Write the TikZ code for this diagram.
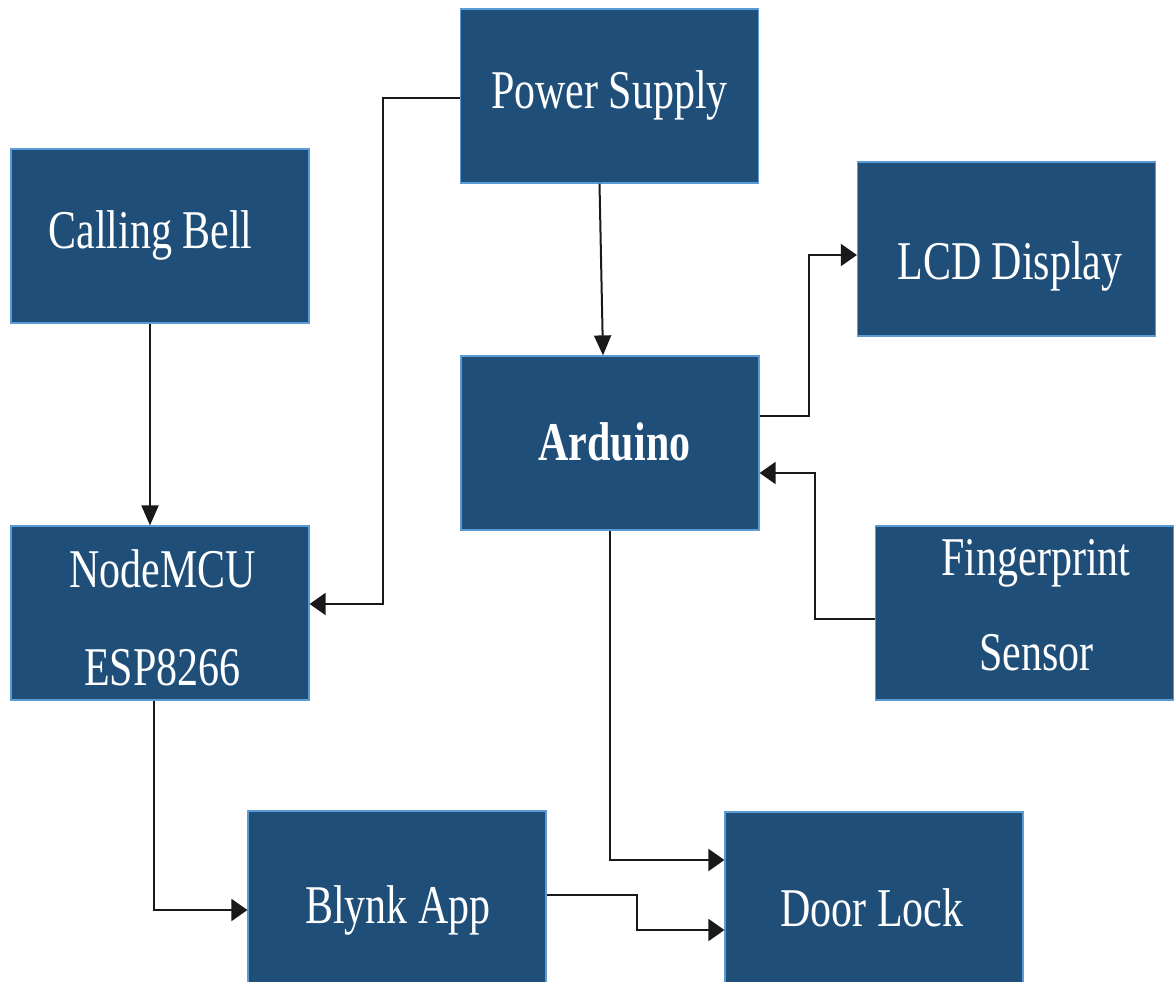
\documentclass[tikz,border=0pt]{standalone}
\usepackage{fontspec}
\setmainfont{Liberation Serif}
\usetikzlibrary{arrows.meta}
\definecolor{boxfill}{HTML}{1F4E79}
\definecolor{boxline}{HTML}{5B9BD5}
\newcommand{\bt}[3]{\raisebox{#2}[0pt][0pt]{\makebox[0pt]{\hspace*{#1}\scalebox{1}[1.3]{#3}}}}
\tikzset{
  blockbox/.style={draw=boxline, line width=1.2pt, fill=boxfill, text=white,
    minimum width=298pt, minimum height=174pt, inner sep=0pt,
    font=\fontsize{42}{50}\selectfont},
  link/.style={draw=black!90, line width=2pt},
  harrow/.style={link, -{Triangle[length=16pt,width=22pt]}},
  varrow/.style={link, -{Triangle[length=20pt,width=17pt]}}
}
\begin{document}
\begin{tikzpicture}[x=1pt,y=-1pt]
\useasboundingbox (0,0) rectangle (1175,982);
\clip (0,0) rectangle (1175,982);
\node[blockbox] (ps)  at (609.5,96)  {\bt{0pt}{-12pt}{Power Supply}};
\node[blockbox] (cb)  at (160,236)   {\bt{-19pt}{-12pt}{Calling Bell}};
\node[blockbox] (lcd) at (1006.5,249){\bt{7pt}{-30pt}{LCD Display}};
\node[blockbox] (ard) at (610,443)   {\bt{9pt}{-17pt}{\bfseries Arduino}};
\node[blockbox] (nm)  at (160,613)   {\bt{6pt}{26pt}{NodeMCU}\bt{5pt}{-72pt}{ESP8266}};
\node[blockbox] (fp)  at (1024.5,613){\bt{23pt}{38pt}{Fingerprint}\bt{24pt}{-57pt}{Sensor}};
\node[blockbox] (bl)  at (397,898)   {\bt{2pt}{-25pt}{Blynk App}};
\node[blockbox] (dl)  at (874,899)   {\bt{-4pt}{-27pt}{Door Lock}};

\draw[harrow] ([yshift=-2pt]ps.west) -- ++(-77,0) |- ([yshift=9pt]nm.east);
\draw[varrow] ([xshift=-10pt]ps.south) -- ([xshift=-7pt]ard.north);
\draw[varrow] ([xshift=-10pt]cb.south) -- ([xshift=-10pt]nm.north);
\draw[harrow] ([yshift=27pt]ard.east) -- ++(49,0) |- ([yshift=-6pt]lcd.west);
\draw[harrow] ([yshift=-6pt]fp.west) -- ++(-60,0) |- ([yshift=-30pt]ard.east);
\draw[harrow] (ard.south) |- ([yshift=39pt]dl.west);
\draw[harrow] ([xshift=-6pt]nm.south) |- ([yshift=-12pt]bl.west);
\draw[harrow] ([yshift=3pt]bl.east) -- ++(90,0) |- ([yshift=-31pt]dl.west);
\end{tikzpicture}
\end{document}
